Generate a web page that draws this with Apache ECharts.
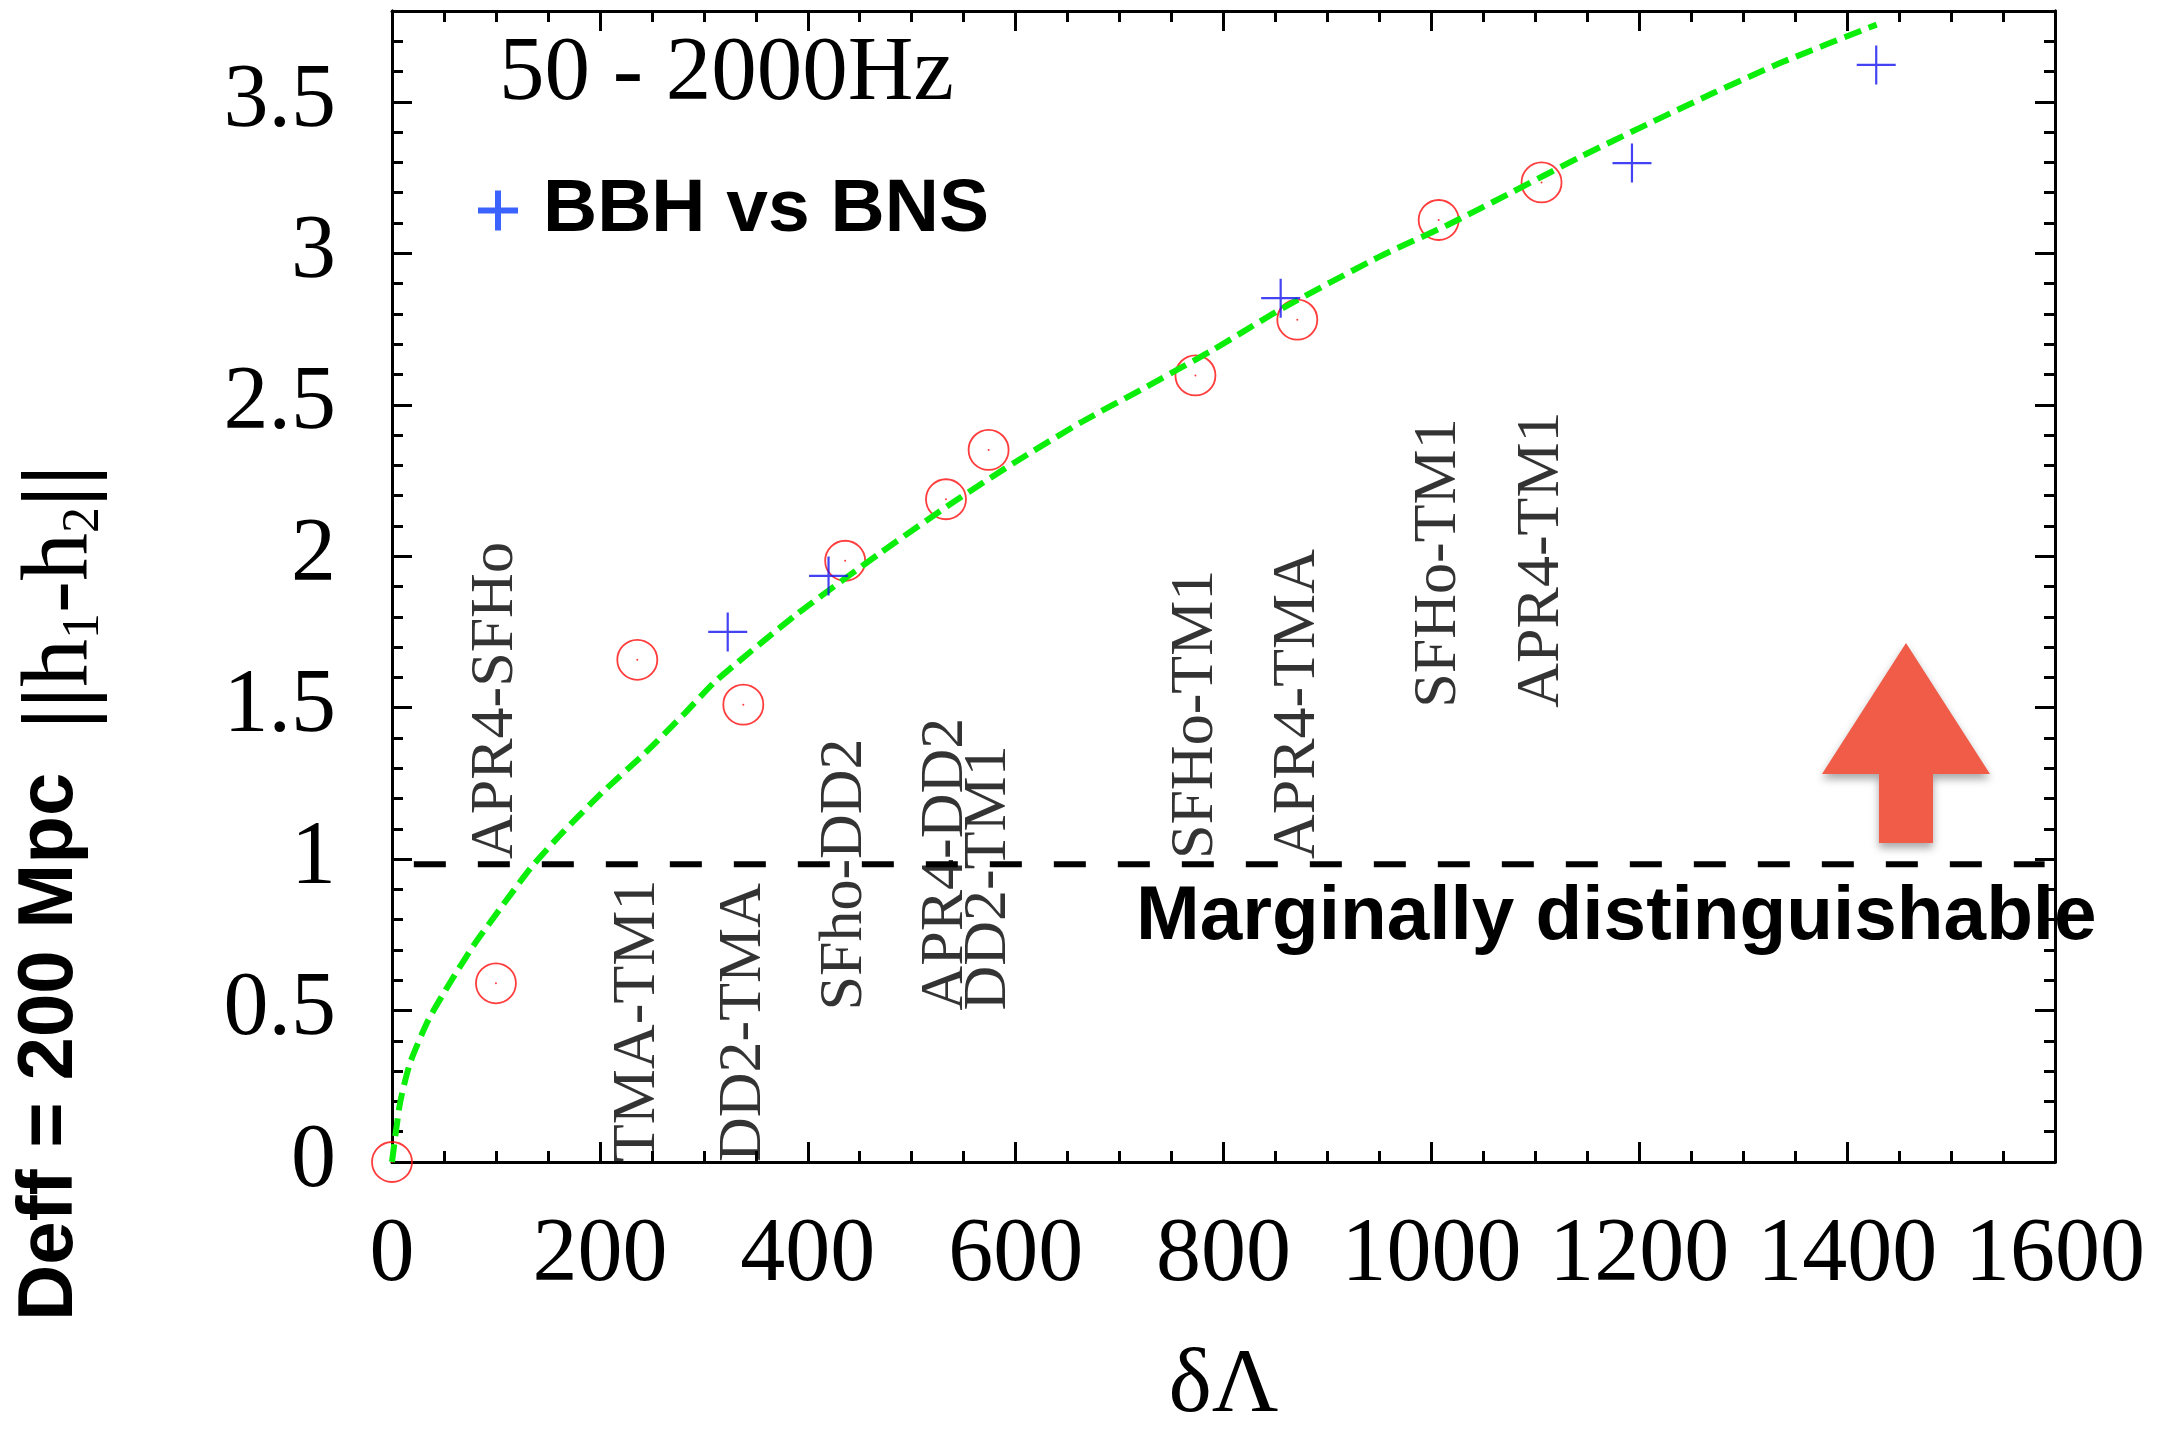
<!DOCTYPE html>
<html>
<head>
<meta charset="utf-8">
<title>BNS distinguishability vs δΛ</title>
<script src="https://cdn.jsdelivr.net/npm/echarts@6/dist/echarts.min.js"></script>
<style>
  html, body { margin: 0; padding: 0; background: #fff; }
  #chart { width: 2182px; height: 1431px; }
</style>
</head>
<body>
<div id="chart"></div>
<script>
// BNS vs BNS pairs: tidal-deformability difference and waveform distance
const bnsDeltaLambda = [0, 100, 236, 338, 436, 533, 574, 773, 871, 1007, 1106];
const bnsNorm        = [0, 0.59, 1.658, 1.51, 1.985, 2.188, 2.351, 2.597, 2.781, 3.11, 3.234];

// EOS pair names written next to the BNS points, and the height where each name starts
const pairNames  = ['APR4-SFHo', 'TMA-TM1', 'DD2-TMA', 'SFho-DD2', 'APR4-DD2', 'DD2-TM1',
                    'SFHo-TM1', 'APR4-TMA', 'SFHo-TM1', 'APR4-TM1'];
const pairNameX  = [100, 236, 338, 436, 533, 574, 773, 871, 1007, 1106];
const pairNameY  = [1, 0, 0, 0.5, 0.5, 0.5, 1, 1, 1.5, 1.5];

// BBH vs BNS comparisons
const bbhDeltaLambda = [323, 420, 855, 1193, 1428];
const bbhNorm        = [1.75, 1.935, 2.852, 3.298, 3.622];

// Fitted trend curve
const fitX = [0, 7.7, 17.3, 35, 57.4, 79.9, 105.5, 134.4, 163.3, 201.7, 243.4, 281.9, 310.8,
              390, 469.5, 533.7, 597.8, 661.9, 726.1, 790.2, 854.3, 950.6, 1014.7,
              1078.8, 1143, 1207.1, 1271.2, 1335.4, 1428.4];
const fitY = [0, 0.194, 0.326, 0.469, 0.601, 0.722, 0.843, 0.975, 1.085, 1.218, 1.35, 1.482, 1.586,
              1.81, 2.01, 2.164, 2.307, 2.44, 2.56, 2.682, 2.814, 2.99, 3.092,
              3.204, 3.318, 3.425, 3.529, 3.628, 3.755];

// "Marginally distinguishable" threshold
const thresholdX = [21, 1590];
const thresholdY = [0.983, 0.983];

// Axis ranges and tick steps
const xRange = [0, 1600], xStep = 200;
const yRange = [0, 3.8], yStep = 0.5, yMinorStep = 0.1;

const zip = (a, b) => a.map((v, i) => [v, b[i]]);

const serif = 'Liberation Serif';
const sans = 'Liberation Sans';

const frameLine = { show: true, onZero: false, lineStyle: { color: '#000', width: 3 } };

function xAxisDef(position, withLabels) {
  return {
    type: 'value', position, min: xRange[0], max: xRange[1], interval: xStep,
    axisLine: frameLine,
    axisTick: { show: true, inside: true, length: 20, lineStyle: { color: '#000', width: 3 } },
    minorTick: { show: true, splitNumber: 4, length: 11, lineStyle: { color: '#000', width: 3 } },
    splitLine: { show: false },
    axisLabel: withLabels
      ? { show: true, fontFamily: serif, fontSize: 90, color: '#000', margin: 49, formatter: v => String(v) }
      : { show: false },
    name: withLabels ? 'δΛ' : '',
    nameLocation: 'middle',
    nameGap: 179,
    nameTextStyle: { fontFamily: serif, fontSize: 92, color: '#000' }
  };
}

function yAxisDef(position, step, tickLen, withLabels) {
  return {
    type: 'value', position, min: yRange[0], max: yRange[1], interval: step,
    axisLine: frameLine,
    axisTick: { show: true, inside: true, length: tickLen, lineStyle: { color: '#000', width: 3 } },
    splitLine: { show: false },
    axisLabel: withLabels
      ? { show: true, fontFamily: serif, fontSize: 90, color: '#000', margin: 56, showMaxLabel: false }
      : { show: false }
  };
}

const chart = echarts.init(document.getElementById('chart'), null, { renderer: 'canvas' });

const arrowPts = [[1906, 643], [1990, 774], [1933, 774], [1933, 843], [1879, 843], [1879, 774], [1822, 774]];

chart.setOption({
  animation: false,
  backgroundColor: '#fff',
  grid: { left: 392, right: 127, top: 11, bottom: 269, containLabel: false, outerBoundsMode: 'none' },
  xAxis: [xAxisDef('bottom', true), xAxisDef('top', false)],
  yAxis: [
    yAxisDef('left', yStep, 20, true),
    yAxisDef('left', yMinorStep, 11, false),
    yAxisDef('right', yStep, 20, false),
    yAxisDef('right', yMinorStep, 11, false)
  ],
  legend: {
    data: [{
      name: 'BBH vs BNS',
      icon: 'path://M17,0H23V17H40V23H23V40H17V23H0V17H17Z',
      itemStyle: { color: '#0a3cff', borderWidth: 0 }
    }],
    left: 473, top: 168,
    itemWidth: 40, itemHeight: 40,
    selectedMode: false,
    textStyle: { fontFamily: sans, fontWeight: 'bold', fontSize: 75, color: '#000', padding: [0, 0, 18, 20] }
  },
  series: [
    {
      name: 'BNS vs BNS',
      type: 'scatter',
      data: zip(bnsDeltaLambda, bnsNorm),
      symbol: 'circle',
      symbolSize: 40,
      itemStyle: { color: 'rgba(0,0,0,0)', borderColor: '#ff0c0c', borderWidth: 1.8 },
      z: 2
    },
    {
      name: 'BNS centres',
      type: 'scatter',
      data: zip(bnsDeltaLambda, bnsNorm),
      symbol: 'circle',
      symbolSize: 2,
      itemStyle: { color: '#ff0c0c' },
      z: 2
    },
    {
      name: 'fit',
      type: 'line',
      data: zip(fitX, fitY),
      showSymbol: false,
      symbol: 'none',
      smooth: 0.2,
      lineStyle: { color: '#0aee0a', width: 6, type: [18, 8] },
      z: 3
    },
    {
      name: 'BBH vs BNS',
      type: 'scatter',
      data: zip(bbhDeltaLambda, bbhNorm),
      symbol: 'path://M0,20H40M20,0V40',
      symbolSize: 39,
      itemStyle: { color: 'rgba(0,0,0,0)', borderColor: '#1414f0', borderWidth: 2.2 },
      z: 4
    },
    {
      name: 'threshold',
      type: 'line',
      data: zip(thresholdX, thresholdY),
      showSymbol: false,
      symbol: 'none',
      lineStyle: { color: '#000', width: 6, type: [32, 32] },
      z: 3
    },
    {
      name: 'pair names',
      type: 'scatter',
      data: pairNameX.map((x, i) => [x, pairNameY[i], pairNames[i]]),
      symbolSize: 1,
      itemStyle: { color: 'rgba(0,0,0,0)' },
      silent: true,
      label: {
        show: true,
        position: 'inside',
        rotate: 90,
        align: 'left',
        verticalAlign: 'middle',
        fontFamily: serif,
        fontSize: 62,
        color: '#000',
        formatter: p => p.data[2]
      },
      z: 5
    }
  ],
  graphic: [
    {
      type: 'text', x: 499, y: 75,
      style: { text: '50 - 2000Hz', font: '91px "Liberation Serif"', fill: '#000', align: 'left', verticalAlign: 'middle' }
    },
    {
      type: 'text', x: 1136, y: 918, z: 100,
      style: { text: 'Marginally distinguishable', font: 'bold 76.5px "Liberation Sans"', fill: '#000', align: 'left', verticalAlign: 'middle' }
    },
    {
      type: 'text', x: 50, y: 1321, rotation: Math.PI / 2,
      style: {
        text: '{s|Deff = 200 Mpc\u00a0\u00a0}{b|||}{t|h}{u|1}{t|-}{t|h}{u|2}{b|||}',
        align: 'left', verticalAlign: 'middle', fill: '#000',
        rich: {
          s: { fontFamily: sans, fontWeight: 'bold', fontSize: 78, lineHeight: 120, fill: '#000' },
          b: { fontFamily: serif, fontWeight: 'bold', fontSize: 96, lineHeight: 98, verticalAlign: 'bottom', fill: '#000' },
          t: { fontFamily: serif, fontSize: 96, lineHeight: 98, verticalAlign: 'bottom', fill: '#000' },
          u: { fontFamily: serif, fontSize: 52, lineHeight: 16, verticalAlign: 'bottom', fill: '#000' }
        }
      }
    },
    {
      type: 'polygon', z: 50,
      shape: { points: arrowPts },
      style: { fill: '#f05c48', shadowBlur: 8, shadowOffsetY: 5, shadowColor: 'rgba(0,0,0,0.35)' }
    }
  ]
});
</script>
</body>
</html>
